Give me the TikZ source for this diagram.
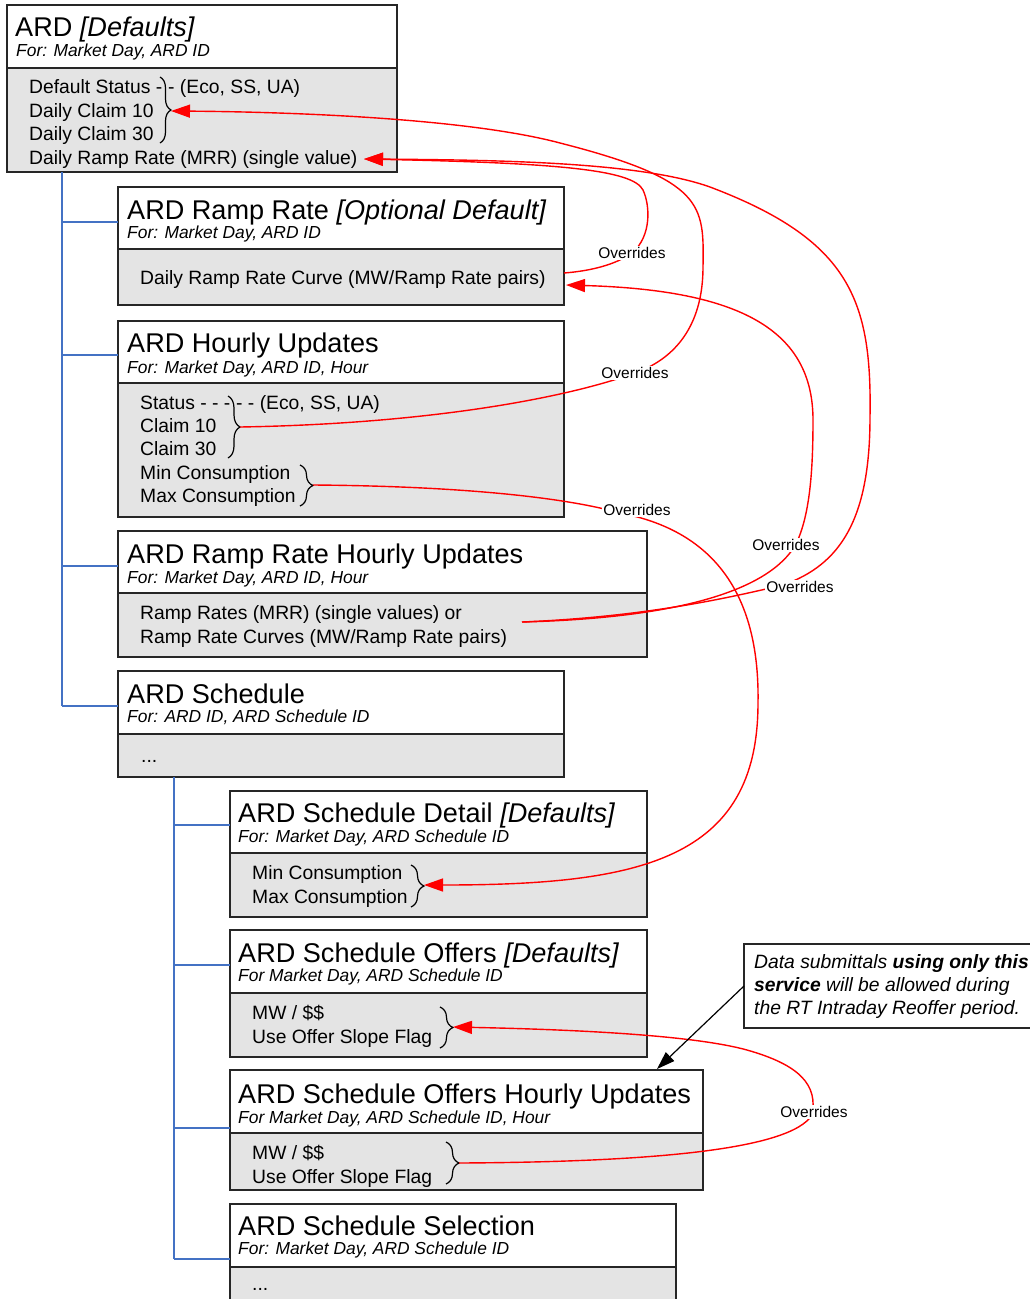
\documentclass[tikz,border=0pt]{standalone}
\usepackage{fontspec}
\setmainfont{Liberation Sans}
\usetikzlibrary{arrows.meta,decorations.pathreplacing}
\definecolor{boxgray}{RGB}{228,228,228}
\definecolor{treeblue}{RGB}{68,114,196}
\definecolor{ovred}{RGB}{255,0,0}
\begin{document}
\begin{tikzpicture}[x=1pt,y=-1pt,
 hdr/.style={draw=black!85, line width=1.5pt, fill=white, anchor=north west, inner sep=0pt, outer sep=0pt},
 bdy/.style={hdr, fill=boxgray},
 ttl/.style={anchor=base west, inner sep=0pt, font=\fontsize{27.1}{32}\selectfont},
 subt/.style={anchor=base west, inner sep=0pt, font=\fontsize{17.4}{20}\selectfont\itshape},
 txt/.style={anchor=base west, inner sep=0pt, font=\fontsize{19.3}{23}\selectfont},
 ovr/.style={inner sep=1.5pt, fill=white, font=\fontsize{15.5}{18}\selectfont},
 ovl/.style={draw=ovred, line width=1.4pt},
 ova/.style={ovl, -{Triangle[length=19pt,width=13pt]}},
 blk/.style={draw=black, line width=1.2pt, -{Triangle[length=18pt,width=12pt]}},
 tree/.style={draw=treeblue, line width=2pt},
 brc/.style={draw=black, line width=1.2pt, decorate, decoration={brace, amplitude=#1}}
]
\useasboundingbox (0,0) rectangle (1029,1299);
\fill[white] (0,0) rectangle (1029,1299);

% ---------- tree connectors ----------
\coordinate (ta) at (62,173);
\coordinate (ja2) at (62,222);
\coordinate (ja3) at (62,355);
\coordinate (ja4) at (62,566);
\coordinate (ja5) at (62,706);
\coordinate (tb) at (174,777);
\coordinate (jb6) at (174,825);
\coordinate (jb7) at (174,965);
\coordinate (jb8) at (174,1128);
\coordinate (jb9) at (174,1259);

% ---------- boxes ----------
\node[hdr, minimum width=390pt, minimum height=63pt] (b1h) at (7,5) {};
\node[bdy, minimum width=390pt, minimum height=104pt] (b1b) at (7,68) {};
\node[hdr, minimum width=446pt, minimum height=62pt] (b2h) at (118,187) {};
\node[bdy, minimum width=446pt, minimum height=56pt] (b2b) at (118,249) {};
\node[hdr, minimum width=446pt, minimum height=62pt] (b3h) at (118,321) {};
\node[bdy, minimum width=446pt, minimum height=134pt] (b3b) at (118,383) {};
\node[hdr, minimum width=529pt, minimum height=62pt] (b4h) at (118,531) {};
\node[bdy, minimum width=529pt, minimum height=64pt] (b4b) at (118,593) {};
\node[hdr, minimum width=446pt, minimum height=63pt] (b5h) at (118,671) {};
\node[bdy, minimum width=446pt, minimum height=43pt] (b5b) at (118,734) {};
\node[hdr, minimum width=417pt, minimum height=62pt] (b6h) at (230,791) {};
\node[bdy, minimum width=417pt, minimum height=64pt] (b6b) at (230,853) {};
\node[hdr, minimum width=417pt, minimum height=63pt] (b7h) at (230,930) {};
\node[bdy, minimum width=417pt, minimum height=64pt] (b7b) at (230,993) {};
\node[hdr, minimum width=473pt, minimum height=63pt] (b8h) at (230,1070) {};
\node[bdy, minimum width=473pt, minimum height=57pt] (b8b) at (230,1133) {};
\node[hdr, minimum width=446pt, minimum height=63pt] (b9h) at (230,1204) {};
\node[bdy, minimum width=446pt, minimum height=50pt] (b9b) at (230,1267) {};
\node[hdr, minimum width=300pt, minimum height=84pt, line width=1.2pt] (note) at (744,944) {};

\draw[tree] (b1b.south -| ta) -- (ja5);
\draw[tree] (ja2) -- (ja2 -| b2h.west);
\draw[tree] (ja3) -- (ja3 -| b3h.west);
\draw[tree] (ja4) -- (ja4 -| b4h.west);
\draw[tree] (ja5) -- (ja5 -| b5h.west);
\draw[tree] (b5b.south -| tb) -- (jb9);
\draw[tree] (jb6) -- (jb6 -| b6h.west);
\draw[tree] (jb7) -- (jb7 -| b7h.west);
\draw[tree] (jb8) -- (jb8 -| b8h.west);
\draw[tree] (jb9) -- (jb9 -| b9h.west);

% ---------- texts ----------
\node[ttl] (t1) at (15,36) {ARD \textit{[Defaults]}};
\node[subt] (s1) at (16,56) {For: Market Day, ARD ID};
\node[txt] (x1a) at (29,93) {Default Status -};
\node[txt] (x1b) at (168,93) {- (Eco, SS, UA)};
\node[txt] (x1c) at (29,117) {Daily Claim 10};
\node[txt] (x1d) at (29,140) {Daily Claim 30};
\node[txt] (x1e) at (29,164) {Daily Ramp Rate (MRR) (single value)};

\node[ttl] (t2) at (127,219) {ARD Ramp Rate \textit{[Optional Default]}};
\node[subt] (s2) at (127,238) {For: Market Day, ARD ID};
\node[txt] (x2a) at (140,284) {Daily Ramp Rate Curve (MW/Ramp Rate pairs)};

\node[ttl] (t3) at (127,352) {ARD Hourly Updates};
\node[subt] (s3) at (127,373) {For: Market Day, ARD ID, Hour};
\node[txt] (x3a) at (140,409) {Status - - -};
\node[txt] (x3b) at (236,409) {- - (Eco, SS, UA)};
\node[txt] (x3c) at (140,432) {Claim 10};
\node[txt] (x3d) at (140,455) {Claim 30};
\node[txt] (x3e) at (140,479) {Min Consumption};
\node[txt] (x3f) at (140,502) {Max Consumption};

\node[ttl] (t4) at (127,563) {ARD Ramp Rate Hourly Updates};
\node[subt] (s4) at (127,583) {For: Market Day, ARD ID, Hour};
\node[txt] (x4a) at (140,619) {Ramp Rates (MRR) (single values) or};
\node[txt] (x4b) at (140,643) {Ramp Rate Curves (MW/Ramp Rate pairs)};

\node[ttl] (t5) at (127,703) {ARD Schedule};
\node[subt] (s5) at (127,722) {For: ARD ID, ARD Schedule ID};
\node[txt] (x5a) at (141,762) {...};

\node[ttl] (t6) at (238,822) {ARD Schedule Detail \textit{[Defaults]}};
\node[subt] (s6) at (238,842) {For: Market Day, ARD Schedule ID};
\node[txt] (x6a) at (252,879) {Min Consumption};
\node[txt] (x6b) at (252,903) {Max Consumption};

\node[ttl] (t7) at (238,962) {ARD Schedule Offers \textit{[Defaults]}};
\node[subt] (s7) at (238,981) {For Market Day, ARD Schedule ID};
\node[txt] (x7a) at (252,1019) {MW / \$\$};
\node[txt] (x7b) at (252,1043) {Use Offer Slope Flag};

\node[ttl] (t8) at (238,1103) {ARD Schedule Offers Hourly Updates};
\node[subt] (s8) at (238,1123) {For Market Day, ARD Schedule ID, Hour};
\node[txt] (x8a) at (252,1159) {MW / \$\$};
\node[txt] (x8b) at (252,1183) {Use Offer Slope Flag};

\node[ttl] (t9) at (238,1235) {ARD Schedule Selection};
\node[subt] (s9) at (238,1254) {For: Market Day, ARD Schedule ID};
\node[txt] (x9a) at (252,1290) {...};

\node[txt, font=\fontsize{19.3}{23}\selectfont\itshape] (n1) at (754,968) {Data submittals \textbf{using only this}};
\node[txt, font=\fontsize{19.3}{23}\selectfont\itshape] (n2) at (754,991) {\textbf{service} will be allowed during};
\node[txt, font=\fontsize{19.3}{23}\selectfont\itshape] (n3) at (754,1014) {the RT Intraday Reoffer period.};

% ---------- braces ----------
\draw[brc=11pt] (160,77) -- (160,143);
\draw[brc=12pt] (228,396) -- (228,458);
\draw[brc=13pt] (300,465) -- (300,506);
\draw[brc=13pt] (411,865) -- (411,907);
\draw[brc=13pt] (440,1007) -- (440,1048);
\draw[brc=13pt] (446,1142) -- (446,1184);

% ---------- override connectors ----------
\coordinate (hbA) at (240,427);
\coordinate (dbA) at (171,111);
\coordinate (rrS) at (564,273);
\coordinate (mrr) at (364,159);
\coordinate (rhS) at (522,622);
\coordinate (rrT) at (566,285);
\coordinate (hmS) at (313,485);
\coordinate (sdT) at (424,885);
\coordinate (ohS) at (459,1163);
\coordinate (odT) at (453,1027);
\coordinate (wA) at (635,373);
\coordinate (wB) at (632,253);
\coordinate (wC) at (796,544);
\coordinate (wD) at (783,585);
\coordinate (wE) at (620,513);
\coordinate (wF) at (812,1115);
\coordinate (b8t) at (657,1069);

\draw[ova] (hbA) .. controls (420,424) and (560,400) .. (wA)
  .. controls (680,357) and (703,320) .. (703,267)
  .. controls (704,205) and (705,180) .. (560,143)
  .. controls (470,119) and (300,112) .. (dbA);
\draw[ova] (rrS) .. controls (590,271) and (615,265) .. (wB)
  .. controls (652,236) and (650,205) .. (643,190)
  .. controls (633,170) and (560,163) .. (mrr);
\draw[ova] (rhS) .. controls (680,618) and (770,590) .. (wC)
  .. controls (810,515) and (813,470) .. (813,420)
  .. controls (813,330) and (740,290) .. (rrT);
\draw[ova] (rhS) .. controls (640,617) and (720,600) .. (wD)
  .. controls (840,565) and (870,520) .. (870,417)
  .. controls (872,300) and (850,240) .. (710,187)
  .. controls (640,162) and (500,160) .. (mrr);
\draw[ova] (hmS) .. controls (450,486) and (560,496) .. (wE)
  .. controls (710,530) and (760,590) .. (758,703)
  .. controls (758,860) and (640,885) .. (sdT);
\draw[ova] (ohS) .. controls (650,1162) and (790,1150) .. (wF)
  .. controls (818,1085) and (800,1065) .. (747,1050)
  .. controls (700,1037) and (600,1030) .. (odT);

\node[ovr] (lA) at (635,373) {Overrides};
\node[ovr] (lB) at (632,253) {Overrides};
\node[ovr] (lC) at (786,545) {Overrides};
\node[ovr] (lD) at (800,587) {Overrides};
\node[ovr] (lE) at (637,510) {Overrides};
\node[ovr] (lF) at (814,1112) {Overrides};

\draw[blk] (note.west) -- (b8t);
\end{tikzpicture}
\end{document}
